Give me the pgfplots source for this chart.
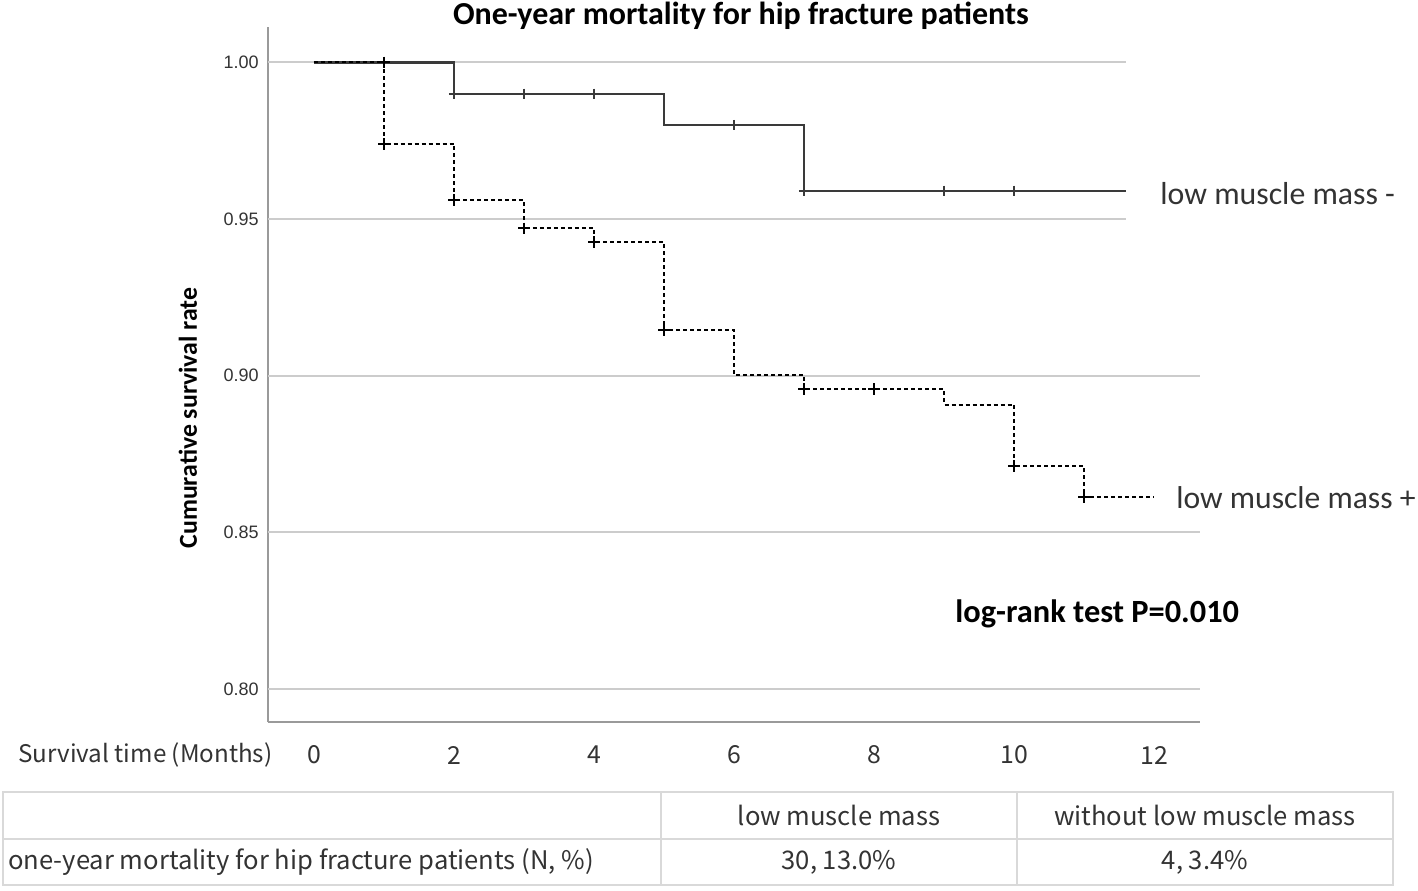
\documentclass[border=0pt]{standalone}
\usepackage{fontspec}
\setmainfont{Carlito}
\newfontfamily\jfont{Noto Sans CJK JP}
\newfontfamily\afont{Liberation Sans}
\usepackage{pgfplots}
\pgfplotsset{compat=1.18}
\definecolor{gridc}{HTML}{CCCCCC}
\definecolor{axc}{HTML}{9A9A9A}
\definecolor{curvec}{HTML}{3A3A3A}
\definecolor{tabc}{HTML}{D9D9D9}
\definecolor{txtc}{HTML}{333333}
\begin{document}
\begin{tikzpicture}[x=1pt,y=1pt]
\useasboundingbox (0,0) rectangle (709,445);
\begin{axis}[
  at={(134pt,84pt)}, anchor=south west,
  scale only axis, width=466pt, height=347.5pt,
  xmin=-0.657, xmax=12.657, ymin=0.7895, ymax=1.0113,
  axis x line=bottom, axis y line=left,
  axis line style={axc, line width=1pt, -},
  xtick={0,2,4,6,8,10,12}, xticklabels={0,2,4,6,8,10,12},
  ytick={0.80,0.85,0.90,0.95,1.00}, yticklabels={0.80,0.85,0.90,0.95,1.00},
  major tick length=0pt,
  xticklabel style={font=\jfont\fontsize{12.4}{12.4}\selectfont, text=txtc, anchor=center, inner sep=0pt, yshift=-16.5pt},
  yticklabel style={font=\afont\fontsize{9}{9}\selectfont, text=txtc, anchor=east, inner sep=0pt, xshift=-4.5pt},
  clip=false,
]
% grid lines
\addplot[gridc, line width=1pt, forget plot] coordinates {(-0.657,0.80) (12.657,0.80)};
\addplot[gridc, line width=1pt, forget plot] coordinates {(-0.657,0.85) (12.657,0.85)};
\addplot[gridc, line width=1pt, forget plot] coordinates {(-0.657,0.90) (12.657,0.90)};
\addplot[gridc, line width=1pt, forget plot] coordinates {(-0.657,0.95) (11.6,0.95)};
\addplot[gridc, line width=1pt, forget plot] coordinates {(-0.657,1.00) (11.6,1.00)};
% low muscle mass - (solid)
\addplot[const plot, curvec, line width=1.2pt] coordinates {
  (0,1.000) (2,0.990) (5,0.980) (7,0.959) (11.6,0.959)};
% low muscle mass + (dashed)
\addplot[const plot, black, line width=1pt, dash pattern=on 2pt off 1.5pt] coordinates {
  (0,1.000) (1,0.974) (2,0.956) (3,0.947) (4,0.9426) (5,0.9146) (6,0.9002)
  (7,0.8957) (9,0.8907) (10,0.8712) (11,0.8612) (12,0.8612)};
% censor marks
\addplot[only marks, mark=+, mark size=2.6pt, curvec, mark options={line width=0.8pt, solid}] coordinates {
  (2,0.990) (3,0.990) (4,0.990) (6,0.980) (7,0.959) (9,0.959) (10,0.959)};
\addplot[only marks, mark=+, mark size=2.9pt, black, mark options={line width=1pt, solid}] coordinates {
  (1,1.000) (1,0.974) (2,0.956) (3,0.947) (4,0.9426) (5,0.9146) (7,0.8957) (8,0.8957) (10,0.8712) (11,0.8612)};
\end{axis}
% titles and labels
\node[font=\bfseries\fontsize{16}{16}\selectfont, anchor=base] at (370.5,432.5) {One-year mortality for hip fracture patients};
\node[font=\bfseries\fontsize{12.9}{12.9}\selectfont, rotate=90] at (94,236) {Cumurative survival rate};
\node[font=\jfont\fontsize{12.1}{12.1}\selectfont, text=txtc, anchor=west, inner sep=0pt] at (9,67.5) {Survival time (Months)};
\node[font=\fontsize{15.9}{15.9}\selectfont, text=txtc, anchor=base west, inner sep=0pt] at (580,342.5) {low muscle mass -};
\node[font=\fontsize{15.8}{15.8}\selectfont, text=txtc, anchor=base west, inner sep=0pt] at (588,191) {low muscle mass +};
\node[font=\bfseries\fontsize{16.2}{16.2}\selectfont, anchor=base west, inner sep=0pt] at (477.5,133.6) {log-rank test P=0.010};
% table
\draw[tabc, line width=0.8pt] (1.5,2.5) rectangle (696.5,49);
\draw[tabc, line width=0.8pt] (1.5,25.5) -- (696.5,25.5);
\draw[tabc, line width=0.8pt] (330.5,2.5) -- (330.5,49);
\draw[tabc, line width=0.8pt] (508.5,2.5) -- (508.5,49);
\begin{scope}[every node/.style={font=\jfont\fontsize{12.8}{12.8}\selectfont, text=txtc, inner sep=0pt}]
\node at (419.5,37.25) {low muscle mass};
\node at (602.5,37.25) {without low muscle mass};
\node[anchor=west] at (4,14) {one-year mortality for hip fracture patients (N, \%)};
\node at (419.5,14) {30, 13.0\%};
\node at (602.5,14) {4, 3.4\%};
\end{scope}
\end{tikzpicture}
\end{document}
